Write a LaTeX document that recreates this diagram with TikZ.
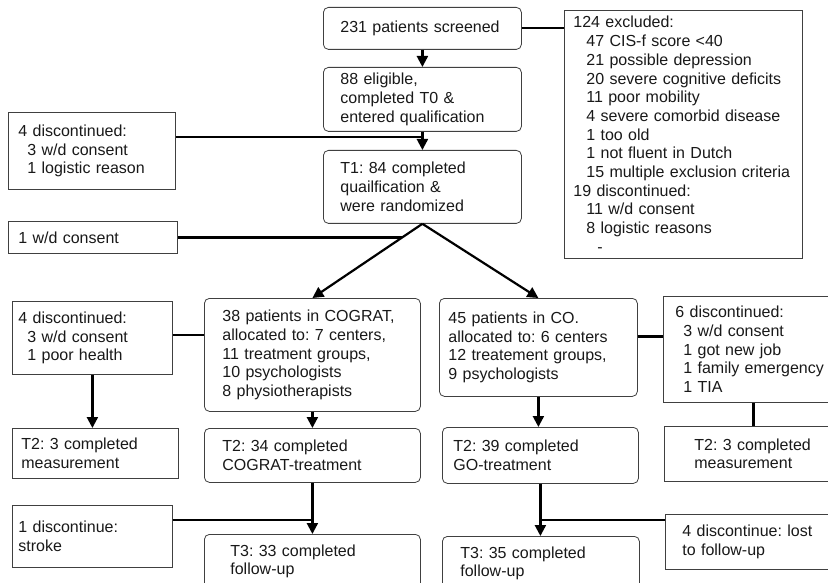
\documentclass[tikz,border=0pt]{standalone}
\usepackage{fontspec}
\setmainfont{Liberation Sans}
\frenchspacing
\usetikzlibrary{arrows.meta,calc}

\tikzset{
  box/.style={draw=black!75, line width=0.8pt, anchor=north west, align=left,
    inner ysep=0pt, text=black!90, font=\fontsize{16}{18.7}\selectfont},
  rbox/.style={box, rounded corners=5pt},
  sz/.style n args={3}{text width=#1pt, minimum height=#2pt, inner xsep=#3pt},
  line/.style={line width=2.2pt, black},
  arr/.style={line, -{Triangle[width=11pt,length=11pt]}},
}

\begin{document}
\begin{tikzpicture}[x=1pt,y=-1pt]
        \useasboundingbox (0,0) rectangle (828,583);
        \clip (0,0) rectangle (828,583);
        \fill[white] (0,0) rectangle (828,583);
        %%Screening and qualification
        \node[rbox, sz={164}{42}{17}] (scr) at (323,7) {231 patients screened};
        \node[rbox, sz={164}{64}{17}] (elig) at (323,67) {88 eligible,\\completed T0 \&\\entered qualification};
        \node[rbox, sz={164}{73}{17}] (t1) at (323,150) {T1: 84 completed\\quailfication \&\\were randomized};
        \node[box, sz={220}{248}{9}] (excl) at (564,10) {124 excluded:\\
          \hspace*{13pt}47 CIS-f score <40\\
          \hspace*{13pt}21 possible depression\\
          \hspace*{13pt}20 severe cognitive deficits\\
          \hspace*{13pt}11 poor mobility\\
          \hspace*{13pt}4 severe comorbid disease\\
          \hspace*{13pt}1 too old\\
          \hspace*{13pt}1 not fluent in Dutch\\
          \hspace*{13pt}15 multiple exclusion criteria\\
          19 discontinued:\\
          \hspace*{13pt}11 w/d consent\\
          \hspace*{13pt}8 logistic reasons\\
          \hspace*{24pt}-};
        \node[box, sz={147}{77}{10}] (disc1) at (8,112) {4 discontinued:\\\hspace*{9pt}3 w/d consent\\\hspace*{9pt}1 logistic reason};
        \node[box, sz={149}{32}{10}] (wd) at (8,221) {1 w/d consent};
        %%COGRAT arm
        \node[rbox, sz={180}{113}{18}] (cog) at (204,298) {38 patients in COGRAT,\\allocated to: 7 centers,\\11 treatment groups,\\10 psychologists\\8 physiotherapists};
        \node[box, sz={148}{73}{6}] (disc2) at (12,301) {4 discontinued:\\\hspace*{9pt}3 w/d consent\\\hspace*{9pt}1 poor health};
        \node[box, sz={148}{50}{9}] (t2a) at (12,428) {T2: 3 completed\\measurement};
        \node[rbox, sz={180}{54}{18}] (t2cog) at (204,428) {T2: 34 completed\\COGRAT-treatment};
        \node[box, sz={148}{62}{6}] (disc3) at (12,505) {1 discontinue:\\stroke};
        \node[rbox, sz={164}{54}{26}] (t3cog) at (204,534) {T3: 33 completed\\follow-up};
        %%CO arm
        \node[rbox, sz={180}{98}{9}] (co) at (439,298) {45 patients in CO.\\allocated to: 6 centers\\12 treatement groups,\\9 psychologists};
        \node[box, sz={156}{106}{12}] (disc4) at (663,296) {6 discontinued:\\\hspace*{8pt}3 w/d consent\\\hspace*{8pt}1 got new job\\\hspace*{8pt}1 family emergency\\\hspace*{8pt}1 TIA};
        \node[box, sz={130}{55}{30}] (t2b) at (664,426) {T2: 3 completed\\measurement};
        \node[rbox, sz={174}{56}{11}] (t2go) at (442,427) {T2: 39 completed\\GO-treatment};
        \node[box, sz={146}{55}{17}] (lost) at (665,514) {4 discontinue: lost\\to follow-up};
        \node[rbox, sz={161}{54}{18}] (t3co) at (442,536) {T3: 35 completed\\follow-up};
        %%Connectors, top part
        \draw[arr] (scr.south) -- (elig.north);
        \draw[line] (scr.east) -- (scr.east -| excl.west);
        \coordinate (j1) at ($(elig.south)+(0,5)$);
        \draw[line] (disc1.east |- j1) -- (j1);
        \draw[arr] (elig.south) -- (t1.north);
        \path (t1.south) -- (cog.north) coordinate[pos=0.187] (j2);
        \draw[line] (wd.east) -- (wd.east -| j2);
        \draw[arr] (t1.south) -- (cog.north);
        \draw[arr] (t1.south) -- (co.north);
        %%Connectors, COGRAT arm
        \draw[line] ([yshift=3pt]disc2.east) -- ([yshift=3pt]disc2.east -| cog.west);
        \draw[arr] (disc2.south) -- (disc2.south |- t2a.north);
        \draw[arr] (cog.south) -- (t2cog.north);
        \draw[arr] (t2cog.south) -- (t3cog.north);
        \coordinate (j3) at ($(t2cog.south)!0.73!(t3cog.north)$);
        \draw[line] (disc3.east |- j3) -- (j3);
        %%Connectors, CO arm
        \draw[line] ([yshift=11pt]co.east) -- ([yshift=11pt]co.east -| disc4.west);
        \draw[line] (disc4.south) -- (disc4.south |- t2b.north);
        \draw[arr] (co.south) -- (co.south |- t2go.north);
        \draw[arr] (t2go.south) -- (t2go.south |- t3co.north);
        \coordinate (j4) at ($(t2go.south)!0.7!(t3co.north)$);
        \draw[line] (lost.west |- j4) -- (j4);
\end{tikzpicture}
\end{document}
